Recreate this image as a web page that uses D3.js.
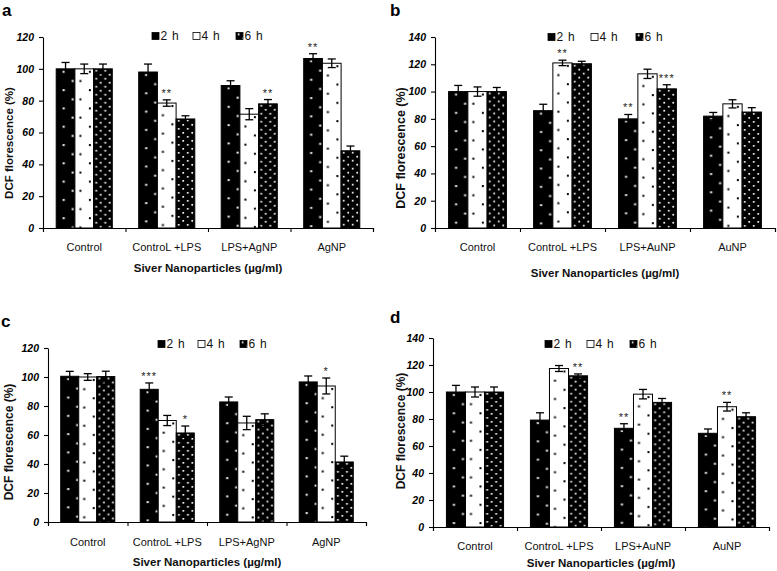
<!DOCTYPE html>
<html><head><meta charset="utf-8">
<script src="https://cdn.jsdelivr.net/npm/d3@7"></script>
<style>body{margin:0;background:#fff}svg{display:block;font-family:"Liberation Sans",Arial,sans-serif}</style>
</head><body>
<svg id="c" width="777" height="571"></svg>
<script>
// ---- data ----
const series = ["2 h", "4 h", "6 h"];
const catsAg = ["Control", "ControL +LPS", "LPS+AgNP", "AgNP"];
const catsAu = ["Control", "ControL +LPS", "LPS+AuNP", "AuNP"];
const yTicks120 = [0, 20, 40, 60, 80, 100, 120];
const yTicks140 = [0, 20, 40, 60, 80, 100, 120, 140];

const a2h = [100, 98, 89.5, 106.5], a2hErr = [4, 5, 3, 3];
const a4h = [100, 78.5, 71.5, 103.5], a4hErr = [3, 2, 3.5, 2.7];
const a6h = [100, 68.5, 78, 48.5], a6hErr = [3, 2, 2.7, 3];
const aStars2h = ["", "", "", "**"], aStars4h = ["", "**", "", ""], aStars6h = ["", "", "**", ""];

const b2h = [100, 86, 80, 82], b2hErr = [4.5, 4.7, 3.2, 2.7];
const b4h = [100, 121, 113, 91], b4hErr = [3.4, 2, 3.4, 3];
const b6h = [100, 120.4, 102, 85], b6hErr = [3, 1.8, 3, 3.2];
const bStars2h = ["", "", "**", ""], bStars4h = ["", "**", "", ""], bStars6h = ["", "", "***", ""];

const c2h = [100.5, 91.5, 82.8, 96.6], c2hErr = [3.4, 4.4, 3.4, 4.1];
const c4h = [100, 70, 68.3, 93.8], c4hErr = [2.3, 3.5, 4.6, 5.5];
const c6h = [100.3, 61.4, 70.6, 41.4], c6hErr = [3.7, 4.8, 4, 4];
const cStars2h = ["", "***", "", ""], cStars4h = ["", "", "", "*"], cStars6h = ["", "*", "", ""];

const d2h = [100, 79.2, 73.1, 69.4], d2hErr = [4.9, 5.4, 3.4, 3.2];
const d4h = [100, 117.4, 98.4, 89.1], d4hErr = [3.7, 2.2, 3.5, 3.2];
const d6h = [100, 112, 92.3, 81.7], d6hErr = [3.7, 1.4, 2.9, 2.9];
const dStars2h = ["", "", "**", ""], dStars4h = ["", "", "", "**"], dStars6h = ["", "**", "", ""];

const yTitle = "DCF florescence (%)";
const xTitle = "Siver Nanoparticles (µg/ml)";

// ---- layout ----
const panels = [
  {label:"a", lx:2, ly:16, cats:catsAg, vals:[a2h,a4h,a6h], errs:[a2hErr,a4hErr,a6hErr], stars:[aStars2h,aStars4h,aStars6h],
   ticks:yTicks120, left:43, right:373, top:37, bottom:228, legY:36, legX:[152,193,236], catY:251, titleY:272, ytX:9, ytY:143, ytSize:11.5},
  {label:"b", lx:390, ly:16, cats:catsAu, vals:[b2h,b4h,b6h], errs:[b2hErr,b4hErr,b6hErr], stars:[bStars2h,bStars4h,bStars6h],
   ticks:yTicks140, left:435, right:775, top:37, bottom:228, legY:37, legX:[548,591,636], catY:251, titleY:277, ytX:401, ytY:148, ytSize:12.5},
  {label:"c", lx:1, ly:327, cats:catsAg, vals:[c2h,c4h,c6h], errs:[c2hErr,c4hErr,c6hErr], stars:[cStars2h,cStars4h,cStars6h],
   ticks:yTicks120, left:48, right:366, top:348, bottom:522, legY:344, legX:[158,198,240], catY:546, titleY:566, ytX:9, ytY:442, ytSize:12},
  {label:"d", lx:390, ly:323, cats:catsAu, vals:[d2h,d4h,d6h], errs:[d2hErr,d4hErr,d6hErr], stars:[dStars2h,dStars4h,dStars6h],
   ticks:yTicks140, left:433, right:769, top:338, bottom:527, legY:344, legX:[545,587,630], catY:550, titleY:567, ytX:401, ytY:431, ytSize:12}
];

const svg = d3.select("#c");
svg.append("rect").attr("width",777).attr("height",571).attr("fill","#fff");
const defs = svg.append("defs");

// patterns
function makePattern(id, bg, fg, w, h, dots, r) {
  const p = defs.append("pattern").attr("id", id).attr("patternUnits","userSpaceOnUse")
    .attr("width", w).attr("height", h);
  p.append("rect").attr("width", w).attr("height", h).attr("fill", bg);
  dots.forEach(d => p.append("rect").attr("x", d[0]).attr("y", d[1]).attr("width", r).attr("height", r).attr("fill", fg));
}
makePattern("p2h", "#000", "#fff", 60, 18.3, [[6.5, 2], [15.5, 11.2]], 2);
makePattern("p4h", "#fff", "#000", 60, 18.3, [[4.5, 11.2], [14, 2]], 2);
makePattern("p6h", "#000", "#fff", 9, 8, [[1.8, 1], [6.3, 5]], 1.7);
const fills = ["url(#p2h)", "url(#p4h)", "url(#p6h)"];
const legFills = ["#000", "#fff", "url(#p6h)"];

panels.forEach(P => {
  const g = svg.append("g");
  const y = d3.scaleLinear().domain([0, d3.max(P.ticks)]).range([P.bottom, P.top]);
  const x0 = d3.scaleBand().domain(P.cats).range([P.left, P.right]);
  const bw = x0.bandwidth();
  const x1 = d3.scaleBand().domain(series).range([bw * 0.16, bw * 0.84]);
  const xb = d3.scaleLinear().domain([0, P.cats.length]).range([P.left, P.right]);

  // bars
  series.forEach((s, si) => {
    P.cats.forEach((c, ci) => {
      const v = P.vals[si][ci];
      const bx = x0(c) + x1(s);
      const bg = g.append("g").attr("transform", `translate(${bx},${y(v)})`);
      bg.append("rect").attr("x", 0).attr("y", 0).attr("width", x1.bandwidth()).attr("height", y(0) - y(v))
        .attr("fill", fills[si]).attr("stroke", "#000").attr("stroke-width", 1);
    });
  });
  // error bars & stars
  series.forEach((s, si) => {
    P.cats.forEach((c, ci) => {
      const v = P.vals[si][ci], e = P.errs[si][ci];
      const cx = x0(c) + x1(s) + x1.bandwidth() / 2;
      const col = "#000";
      g.append("line").attr("x1", cx).attr("x2", cx).attr("y1", y(v - e)).attr("y2", y(v + e))
        .attr("stroke", col).attr("stroke-width", 1.3);
      [v - e, v + e].forEach(t => g.append("line").attr("x1", cx - 4).attr("x2", cx + 4).attr("y1", y(t)).attr("y2", y(t))
        .attr("stroke", col).attr("stroke-width", 1.3));
      const st = P.stars[si][ci];
      if (st) g.append("text").attr("x", cx).attr("y", y(v + e) - 3).attr("text-anchor", "middle")
        .attr("font-size", 11).attr("letter-spacing", 1).attr("fill", "#222").text(st);
    });
  });

  // axes
  const ya = d3.axisLeft(y).tickValues(P.ticks).tickSize(4).tickSizeOuter(0).tickPadding(5);
  const yg = g.append("g").attr("transform", `translate(${P.left},0)`).call(ya);
  yg.selectAll("text").attr("font-size", 10.5).attr("font-weight", "bold").attr("font-style", "italic")
    .attr("font-family", '"Liberation Sans",Arial,sans-serif').attr("fill", "#000");
  const xa = d3.axisBottom(xb).ticks(P.cats.length).tickSize(4).tickSizeOuter(4).tickFormat("");
  g.append("g").attr("transform", `translate(0,${P.bottom})`).call(xa);
  g.selectAll(".domain, .tick line").attr("stroke", "#000").attr("stroke-width", 1.1);

  // category labels
  P.cats.forEach(c => g.append("text").attr("x", x0(c) + bw / 2).attr("y", P.catY).attr("text-anchor", "middle")
    .attr("font-size", 11).attr("fill", "#111").text(c));
  // titles
  g.append("text").attr("x", (P.left + P.right) / 2).attr("y", P.titleY).attr("text-anchor", "middle")
    .attr("font-size", 11.5).attr("font-weight", "bold").attr("fill", "#111").text(xTitle);
  g.append("text").attr("transform", `translate(${P.ytX},${P.ytY}) rotate(-90)`).attr("text-anchor", "middle")
    .attr("dominant-baseline", "central").attr("font-size", P.ytSize).attr("font-weight", "bold").attr("fill", "#111").text(yTitle);
  // panel label
  g.append("text").attr("x", P.lx).attr("y", P.ly).attr("font-size", 17).attr("font-weight", "bold").attr("fill", "#000").text(P.label);

  // legend
  series.forEach((s, si) => {
    const lg = g.append("g").attr("transform", `translate(${P.legX[si]},${P.legY - 3.5})`);
    lg.append("rect").attr("width", 7).attr("height", 7).attr("fill", legFills[si]).attr("stroke", "#000").attr("stroke-width", 0.8);
    lg.append("text").attr("x", 8.5).attr("y", 7.5).attr("font-size", 12).attr("letter-spacing", 0.8).attr("fill", "#111").text(s);
  });
});
</script>
</body></html>
